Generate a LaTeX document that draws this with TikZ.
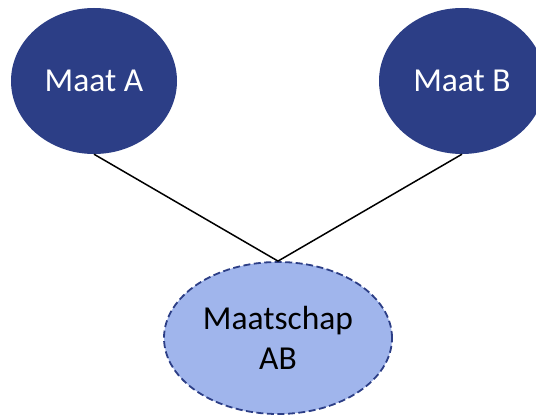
\documentclass[tikz,border=0pt]{standalone}
\usepackage{fontspec}
\setmainfont{Carlito}
\usetikzlibrary{shapes.geometric}
\definecolor{darkblob}{HTML}{2C3E86}
\definecolor{lightblob}{HTML}{A0B5EC}
\tikzset{
  partner/.style={ellipse, fill=darkblob, draw=none, text=white, inner sep=0pt,
    minimum width=166pt, minimum height=146pt, font=\fontsize{33.5}{40}\selectfont},
  firm/.style={ellipse, fill=lightblob, draw=darkblob, line width=1.8pt,
    dash pattern=on 7pt off 3.5pt, text=black, inner sep=0pt, align=center,
    minimum width=228pt, minimum height=152pt, font=\fontsize{33.5}{40}\selectfont},
  link/.style={draw=black, line width=1.5pt}
}
\begin{document}
\begin{tikzpicture}[x=1pt,y=-1pt]
\useasboundingbox (0,0) rectangle (536,417);
\clip (0,0) rectangle (536,417);
\fill[white] (0,0) rectangle (536,417);
\node[partner] (a) at (94,81) {Maat A};
\node[partner] (b) at (462,81) {Maat B};
\node[firm] (m) at (278,338) {Maatschap\\AB};
\draw[link] (a.south) -- (m.north);
\draw[link] (b.south) -- (m.north);
\end{tikzpicture}
\end{document}
